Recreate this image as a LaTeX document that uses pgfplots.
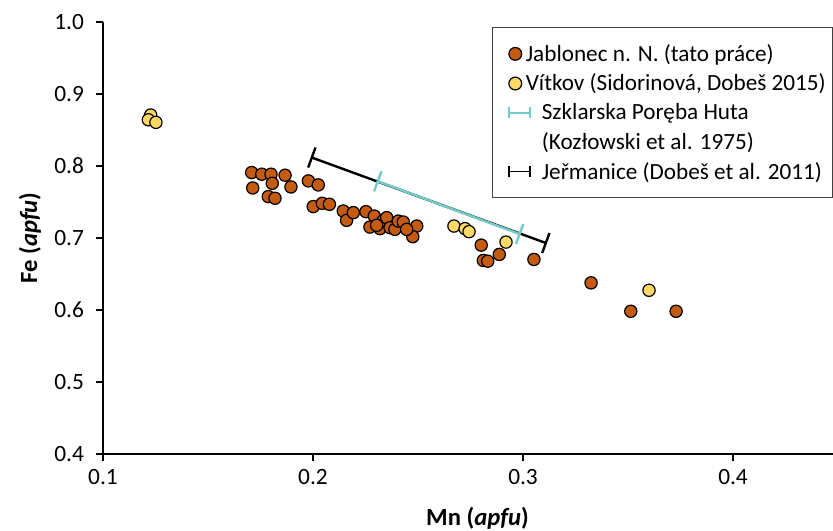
\documentclass[border=0pt]{standalone}
\usepackage{fontspec}
\setmainfont{Carlito}
\usepackage{pgfplots}
\pgfplotsset{compat=1.18}
\usetikzlibrary{arrows.meta,calc}
\definecolor{orng}{HTML}{C55A11}
\definecolor{yell}{HTML}{FFD966}
\definecolor{cyn}{HTML}{70CCC4}
\begin{document}
\begin{tikzpicture}
\begin{axis}[name=ax, scale only axis, width=547.5pt, height=324pt,
  xmin=0.1, xmax=0.4476, ymin=0.4, ymax=1.0,
  axis x line=bottom, axis y line=left,
  axis line style={line width=1.1pt, -, black},
  xtick={0.1,0.2,0.3,0.4}, xticklabels={0.1,0.2,0.3,0.4},
  ytick={0.4,0.5,0.6,0.7,0.8,0.9,1.0}, yticklabels={0.4,0.5,0.6,0.7,0.8,0.9,1.0},
  tick align=outside, major tick length=5.25pt,
  tick style={line width=1.1pt, black},
  ticklabel style={font=\fontsize{17.5}{20}\selectfont},
  yticklabel style={xshift=-5.5pt},
  xticklabel style={yshift=-3pt},
  xlabel={\textbf{Mn (\textit{apfu})}},
  ylabel={\textbf{Fe (\textit{apfu})}},
  every axis x label/.style={at={(axis description cs:0.513,-0.148)}, anchor=center, font=\fontsize{18.5}{22}\selectfont},
  every axis y label/.style={at={(axis description cs:-0.1,0.5)}, rotate=90, anchor=center, font=\fontsize{18.5}{22}\selectfont},
  legend style={at={(1.0,0.988)}, anchor=north east, draw=black!75, line width=0.8pt,
    font=\fontsize{17.4}{20}\selectfont, inner xsep=3pt, inner ysep=10.5pt,
    nodes={inner sep=2pt}, row sep=4pt},
  legend cell align=left,
  clip=false,
]
% legend images
\addlegendimage{legend image code/.code={\path (-8pt,0pt) (23pt,0pt); \filldraw[fill=orng, draw=black, line width=0.9pt] (5.5pt,0pt) circle (4.8pt);}}
\addlegendentry{\hspace*{-12pt}Jablonec n. N. (tato práce)}
\addlegendimage{legend image code/.code={\path (-8pt,0pt) (23pt,0pt); \filldraw[fill=yell, draw=black, line width=0.9pt] (5.5pt,0pt) circle (4.8pt);}}
\addlegendentry{\hspace*{-12pt}Vítkov (Sidorinová, Dobeš 2015)}
\addlegendimage{legend image code/.code={\path (-8pt,0pt) (23pt,0pt); \draw[cyn, line width=1.4pt, {Bar[width=8pt]}-{Bar[width=8pt]}] (0pt,0pt) -- (17pt,0pt);}}
\addlegendentry{Szklarska Poręba Huta}
\addlegendimage{empty legend}
\addlegendentry{(Kozłowski et al. 1975)}
\addlegendimage{legend image code/.code={\path (-8pt,0pt) (23pt,0pt); \draw[black, line width=1.4pt, {Bar[width=8pt]}-{Bar[width=8pt]}] (0pt,0pt) -- (17pt,0pt);}}
\addlegendentry{Jeřmanice (Dobeš et al. 2011)}

% ranges
\addplot[forget plot, black, line width=1.8pt, {Bar[width=16pt]}-{Bar[width=16pt]}] coordinates {(0.1989,0.8123) (0.3114,0.6925)};
\addplot[forget plot, cyn, line width=1.8pt, {Bar[width=16pt]}-{Bar[width=16pt]}] coordinates {(0.2303,0.7793) (0.2989,0.7050)};

% Jablonec
\addplot[forget plot, only marks, mark=*, mark size=4.6pt, mark options={fill=orng, draw=black, line width=0.9pt}] coordinates {
(0.1708,0.7909) (0.1756,0.7886) (0.1800,0.7886) (0.1867,0.7872) (0.1806,0.7760)
(0.1713,0.7695) (0.1895,0.7709) (0.1787,0.7575) (0.1819,0.7552) (0.1978,0.7793)
(0.2025,0.7737) (0.2001,0.7436) (0.2044,0.7482) (0.2078,0.7468) (0.2144,0.7375)
(0.2160,0.7245) (0.2192,0.7352) (0.2252,0.7366) (0.2292,0.7305) (0.2271,0.7152)
(0.2319,0.7130) (0.2335,0.7245) (0.2351,0.7283) (0.2367,0.7143) (0.2390,0.7120)
(0.2406,0.7235) (0.2430,0.7222) (0.2494,0.7166) (0.2475,0.7018) (0.2446,0.7120)
(0.2303,0.7176) (0.2801,0.6901) (0.2811,0.6688) (0.2832,0.6678) (0.2887,0.6772)
(0.3052,0.6702) (0.3324,0.6377) (0.3513,0.5982) (0.3729,0.5982)
};
% Vitkov
\addplot[forget plot, only marks, mark=*, mark size=4.6pt, mark options={fill=yell, draw=black, line width=0.9pt}] coordinates {
(0.1227,0.8708) (0.1216,0.8642) (0.1252,0.8606) (0.2671,0.7166) (0.2724,0.7130)
(0.2743,0.7088) (0.2919,0.6943) (0.3600,0.6274)
};
\end{axis}
\pgfresetboundingbox
\path ($(ax.south west)+(-77.25pt,-57.75pt)$) rectangle ($(ax.north east)+(0pt,16.5pt)$);
\end{tikzpicture}
\end{document}
